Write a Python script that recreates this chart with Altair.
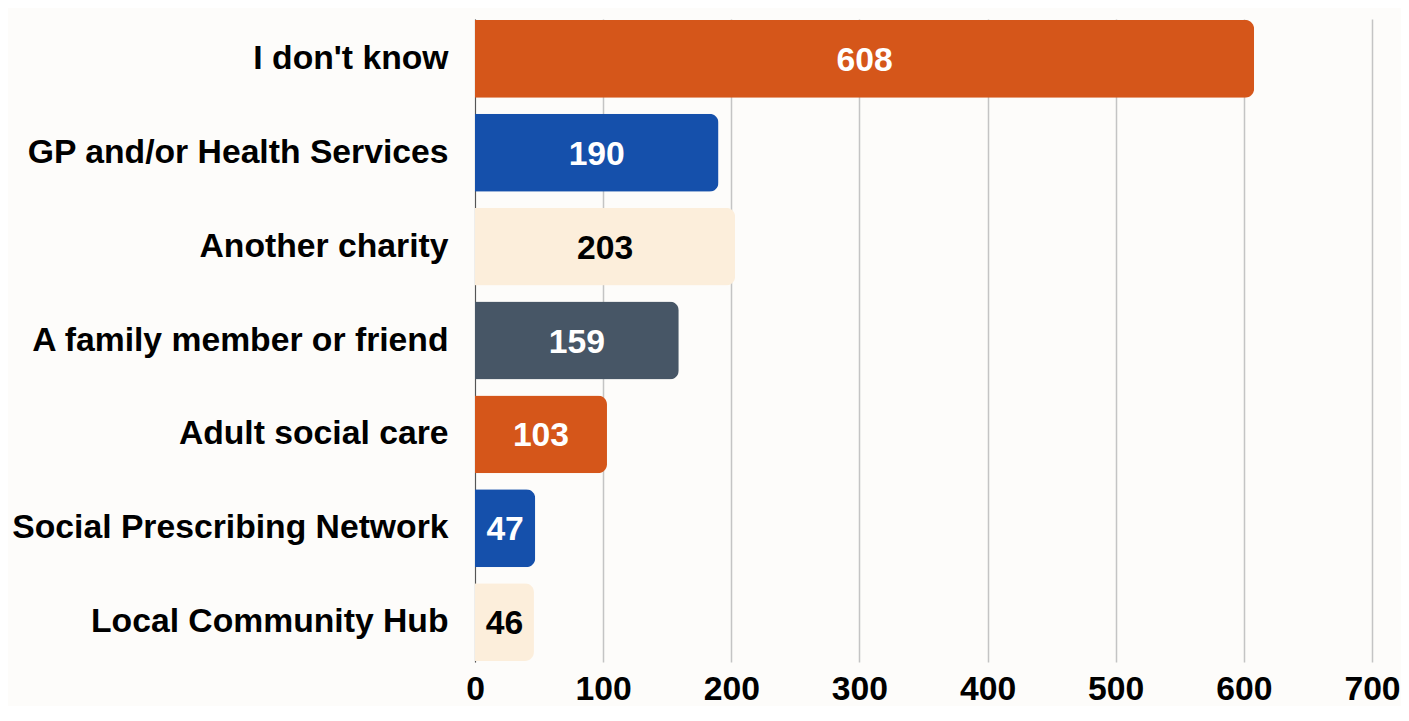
import altair as alt
import pandas as pd

categories = ["I don't know", "GP and/or Health Services", "Another charity",
              "A family member or friend", "Adult social care",
              "Social Prescribing Network", "Local Community Hub"]
counts = [608, 190, 203, 159, 103, 47, 46]
bar_colors = ["#D5561A", "#1550AB", "#FCEEDB", "#475666", "#D5561A", "#1550AB", "#FCEEDB"]
label_colors = ["#ffffff", "#ffffff", "#000000", "#ffffff", "#ffffff", "#ffffff", "#000000"]
x_ticks = [0, 100, 200, 300, 400, 500, 600, 700]

df = pd.DataFrame({"cat": categories, "n": counts, "col": bar_colors, "lcol": label_colors})

FONT = "Liberation Sans"
FS = 33.7

base = alt.Chart(df).encode(
    y=alt.Y("cat:N", sort=categories, title=None,
            scale=alt.Scale(paddingInner=0.17, paddingOuter=0.01),
            axis=alt.Axis(labelFont=FONT, labelFontSize=FS, labelFontWeight="bold",
                          labelColor="#000000", labelPadding=27, ticks=False,
                          domain=True, domainColor="#555555", domainWidth=1,
                          grid=False, labelLimit=700)),
)

bars = base.mark_bar(cornerRadiusEnd=9).encode(
    x=alt.X("n:Q", title=None,
            scale=alt.Scale(domain=[0, 700], nice=False),
            axis=alt.Axis(values=x_ticks, labelFont=FONT, labelFontSize=FS,
                          labelFontWeight="bold", labelColor="#000000",
                          labelPadding=10, ticks=False, domain=False,
                          labelFlush=False,
                          grid=True, gridColor="#c4c4c4", gridWidth=1.5)),
    color=alt.Color("col:N", scale=None, legend=None),
)

labels = base.mark_text(font=FONT, fontSize=FS, fontWeight="bold", align="center",
                        baseline="middle", dy=2).encode(
    x=alt.X("mid:Q"),
    text=alt.Text("n:Q"),
    color=alt.Color("lcol:N", scale=None, legend=None),
).transform_calculate(mid="datum.n / 2")

chart = (bars + labels).properties(
    width=897, height=643,
    background="#fdfcfa",
    padding={"left": 3, "top": 11, "right": 0, "bottom": 0},
).configure_view(stroke=None)

chart.save("out.html", embed_options={"renderer": "svg", "actions": False})
